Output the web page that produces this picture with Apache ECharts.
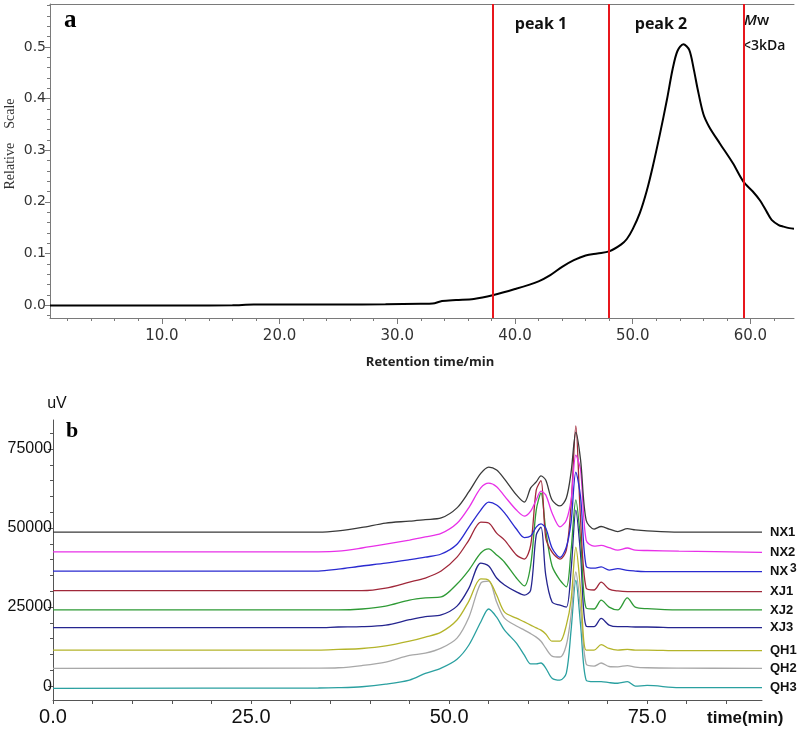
<!DOCTYPE html>
<html>
<head>
<meta charset="utf-8">
<script src="https://cdn.jsdelivr.net/npm/echarts@6/dist/echarts.min.js"></script>
<style>html,body{margin:0;padding:0;background:#fff;}#c{width:798px;height:732px;}</style>
</head>
<body>
<div id="c"></div>
<script>
// ---- Panel a data ----
const timeA = [0.5, 4, 8, 12, 16, 17.8, 20, 25, 29, 32, 33, 33.8, 35, 36.5, 38.1, 40, 42, 43, 44, 45, 46, 47, 48, 49, 49.5, 50, 50.6, 51.2, 51.7, 52.3, 52.9, 53.4, 53.8, 54.3, 54.8, 55.2, 55.5, 56, 56.5, 57.4, 58.5, 59.4, 60.2, 60.8, 61.4, 61.8, 62.4, 62.8, 63.3, 63.7];
const relA = [-0.001, -0.001, -0.001, -0.001, -0.0005, 0.001, 0.001, 0.001, 0.0015, 0.0025, 0.003, 0.008, 0.010, 0.012, 0.019, 0.031, 0.046, 0.058, 0.074, 0.087, 0.096, 0.100, 0.104, 0.117, 0.128, 0.147, 0.178, 0.222, 0.268, 0.33, 0.397, 0.458, 0.492, 0.505, 0.494, 0.455, 0.42, 0.37, 0.345, 0.313, 0.275, 0.239, 0.22, 0.203, 0.18, 0.165, 0.155, 0.152, 0.149, 0.148];
const peakLines = [38.1, 48.0, 59.4];
const topXLabels = [10, 20, 30, 40, 50, 60];
const topXMinor = [2,4,6,8,12,14,16,18,22,24,26,28,32,34,36,38,42,44,46,48,52,54,56,58,62];
const topYLabels = [0, 0.1, 0.2, 0.3, 0.4, 0.5];
const topYMinor = [-0.02,0.02,0.04,0.06,0.08,0.12,0.14,0.16,0.18,0.22,0.24,0.26,0.28,0.32,0.34,0.36,0.38,0.42,0.44,0.46,0.48,0.52,0.54,0.56,0.58];

// ---- Panel b data ----
const timeB = [0, 33.5, 36, 39, 42, 45, 47, 49, 51, 52.5, 54, 55, 56, 57, 58.5, 59.5, 60.3, 61, 61.6, 62.2, 63, 64, 64.8, 65.4, 66.0, 66.6, 67.3, 68.3, 69.2, 70.2, 71.3, 72.5, 73.5, 75, 79, 89.5];
const NX1 = [48700, 48700, 49100, 50200, 51600, 52200, 52700, 53200, 56400, 61500, 67300, 69300, 68400, 65500, 60500, 58200, 62700, 64600, 66500, 65200, 58900, 57000, 59500, 67700, 80300, 71500, 52500, 49700, 50500, 49700, 48900, 49800, 49400, 49100, 48700, 48700];
const NX2 = [42500, 42500, 42700, 43700, 44900, 46200, 47200, 48300, 51500, 56500, 62700, 64200, 63100, 60100, 55700, 53800, 55400, 58900, 61700, 60500, 54800, 50400, 52500, 58900, 73100, 68400, 46200, 44300, 44500, 43800, 43000, 43700, 43000, 42900, 42700, 42300];
const NX3 = [36400, 36400, 37000, 38000, 38900, 40000, 40800, 41800, 44900, 50300, 55700, 58200, 57300, 54800, 49700, 47000, 47500, 50300, 51300, 50000, 43700, 40700, 44000, 51900, 67700, 59800, 38000, 37300, 37700, 36700, 37200, 36600, 36400, 36200, 36200, 36200];
const XJ1 = [30200, 30200, 30200, 30200, 31000, 32900, 34200, 36400, 40800, 46200, 51900, 51600, 48400, 46200, 41500, 40200, 44600, 62000, 65000, 47000, 42400, 40200, 43000, 57300, 82300, 52500, 31000, 30400, 32900, 30700, 30100, 29900, 29900, 29900, 29900, 29900];
const XJ2 = [24100, 24100, 24100, 24400, 25300, 27200, 27900, 28200, 32300, 36700, 42100, 43400, 41500, 39200, 34200, 31700, 38300, 55700, 61100, 49400, 38000, 33500, 31400, 43000, 58900, 46200, 24700, 24400, 27200, 25000, 24100, 27900, 25000, 24500, 24100, 24100];
const XJ3 = [18500, 18500, 18700, 18800, 19300, 21000, 22000, 22500, 25300, 31000, 38900, 38000, 34200, 32000, 29800, 28800, 30400, 47800, 50300, 35100, 26600, 25600, 25000, 36700, 55700, 41500, 19000, 18800, 21400, 19300, 18800, 18800, 18700, 18700, 18500, 18500];
const QH1 = [11400, 11400, 11600, 11900, 12700, 14200, 15500, 17100, 20900, 26900, 33900, 33500, 28800, 23400, 21500, 20300, 19300, 18400, 17700, 16500, 14200, 14200, 19300, 27200, 44000, 30400, 11400, 11400, 13100, 11900, 11400, 11600, 11400, 11400, 11200, 11200];
const QH2 = [5600, 5700, 5800, 6500, 7600, 9700, 10400, 12000, 15200, 21800, 32600, 33200, 26600, 21500, 19000, 17700, 16600, 15500, 14200, 12000, 9500, 9200, 13000, 22500, 36100, 24100, 7000, 6300, 7300, 6200, 6100, 6500, 6000, 5800, 5700, 5600];
const QH3 = [-700, -600, -500, -200, 600, 1900, 4000, 5700, 8500, 13000, 20300, 24400, 21800, 17700, 13600, 9800, 7000, 7000, 7300, 5700, 2500, 1900, 4100, 17700, 33500, 19300, 1900, 1400, 1400, 1100, 900, 1400, 0, 200, -500, -500];
const seriesNames = ['NX1', 'NX2', 'NX3', 'XJ1', 'XJ2', 'XJ3', 'QH1', 'QH2', 'QH3'];
const seriesValues = [NX1, NX2, NX3, XJ1, XJ2, XJ3, QH1, QH2, QH3];
const seriesColors = ['#3a3a3a', '#e830e8', '#2a2ad0', '#a0283a', '#2e9a35', '#25258f', '#b4b42a', '#a8a8a8', '#2aa0a0'];
const botXLabels = [0, 25, 50, 75];
const botXTicks = [0,5,10,15,20,25,30,35,40,45,50,55,60,65,70,75,80,85];
const botYLabels = [0, 25000, 50000, 75000];
const botYMinor = [5000,10000,15000,20000,30000,35000,40000,45000,55000,60000,65000,70000,80000];

const chart = echarts.init(document.getElementById('c'), null, {renderer: 'canvas'});

const topAxisColor = '#7a7a7a';
const botAxisColor = '#555';
const lblFont = '"Liberation Sans", sans-serif';

const bottomSeries = seriesNames.map((name, k) => {
  const isNX3 = name === 'NX3';
  return {
    name: name,
    type: 'line',
    xAxisIndex: 3,
    yAxisIndex: 2,
    data: timeB.map((t, i) => [t, seriesValues[k][i]]),
    smooth: 0.3,
    showSymbol: false,
    lineStyle: {color: seriesColors[k], width: 1.3},
    endLabel: {
      show: true,
      distance: 8,
      formatter: isNX3 ? '{a|NX}{b|3}' : name,
      color: '#111',
      fontWeight: 'bold',
      fontSize: 13,
      fontFamily: lblFont,
      rich: {
        a: {fontWeight: 'bold', fontSize: 13, color: '#111', fontFamily: lblFont, padding: [0, 2, 0, 0]},
        b: {fontWeight: 'bold', fontSize: 12, color: '#111', padding: [0, 0, 7, 0], fontFamily: lblFont}
      }
    },
    z: 2 + (9 - k)
  };
});

const option = {
  animation: false,
  backgroundColor: '#fff',
  grid: [
    {left: 50, right: 4, top: 4, bottom: 414},
    {left: 53, right: 36, top: 420, bottom: 32}
  ],
  xAxis: [
    {
      gridIndex: 0, type: 'value', min: 0.5, max: 63.7, position: 'bottom',
      axisLine: {show: true, onZero: false, lineStyle: {color: topAxisColor, width: 1}},
      axisTick: {show: true, customValues: topXLabels, length: 6, lineStyle: {color: topAxisColor}},
      axisLabel: {customValues: topXLabels, formatter: v => Number(v).toFixed(1), margin: 11, fontSize: 15, fontFamily: 'DejaVu Sans', color: '#333'},
      splitLine: {show: false}
    },
    {
      gridIndex: 0, type: 'value', min: 0.5, max: 63.7, position: 'top',
      axisLine: {show: true, onZero: false, lineStyle: {color: topAxisColor, width: 1}},
      axisTick: {show: false}, axisLabel: {show: false}, splitLine: {show: false}
    },
    {
      gridIndex: 0, type: 'value', min: 0.5, max: 63.7, position: 'bottom',
      axisLine: {show: false, onZero: false},
      axisTick: {show: true, customValues: topXMinor, length: 3, lineStyle: {color: topAxisColor}},
      axisLabel: {show: false}, splitLine: {show: false}
    },
    {
      gridIndex: 1, type: 'value', min: 0, max: 89.5, position: 'bottom',
      axisLine: {show: true, onZero: false, lineStyle: {color: botAxisColor, width: 1}},
      axisTick: {show: true, customValues: botXTicks, length: 4, lineStyle: {color: botAxisColor}},
      axisLabel: {customValues: botXLabels, formatter: v => Number(v).toFixed(1), margin: 7, fontSize: 20, fontFamily: 'Liberation Sans', color: '#111'},
      splitLine: {show: false}
    }
  ],
  yAxis: [
    {
      gridIndex: 0, type: 'value', min: -0.025, max: 0.583, position: 'left',
      axisLine: {show: true, onZero: false, lineStyle: {color: topAxisColor, width: 1}},
      axisTick: {show: true, customValues: topYLabels, length: 5, lineStyle: {color: topAxisColor}},
      axisLabel: {customValues: topYLabels, formatter: v => Number(v).toFixed(1), margin: 4, fontSize: 14, fontFamily: 'DejaVu Sans', color: '#333'},
      splitLine: {show: false}
    },
    {
      gridIndex: 0, type: 'value', min: -0.025, max: 0.583, position: 'left',
      axisLine: {show: false, onZero: false},
      axisTick: {show: true, customValues: topYMinor, length: 3, lineStyle: {color: topAxisColor}},
      axisLabel: {show: false}, splitLine: {show: false}
    },
    {
      gridIndex: 1, type: 'value', min: -4400, max: 84200, position: 'left',
      axisLine: {show: true, onZero: false, lineStyle: {color: botAxisColor, width: 1}},
      axisTick: {show: true, customValues: botYLabels, length: 5, lineStyle: {color: botAxisColor}},
      axisLabel: {customValues: botYLabels, formatter: v => String(Math.round(v)), margin: 1, fontSize: 16, fontFamily: 'Liberation Sans', color: '#111'},
      splitLine: {show: false}
    },
    {
      gridIndex: 1, type: 'value', min: -4400, max: 84200, position: 'left',
      axisLine: {show: false, onZero: false},
      axisTick: {show: true, customValues: botYMinor, length: 3, lineStyle: {color: botAxisColor}},
      axisLabel: {show: false}, splitLine: {show: false}
    }
  ],
  series: [
    {
      name: 'a',
      type: 'line',
      xAxisIndex: 0,
      yAxisIndex: 0,
      data: timeA.map((t, i) => [t, relA[i]]),
      smooth: 0.3,
      showSymbol: false,
      lineStyle: {color: '#000', width: 2},
      markLine: {
        silent: true,
        symbol: ['none', 'none'],
        label: {show: false},
        lineStyle: {color: '#e8161c', width: 2, type: 'solid'},
        data: peakLines.map(v => ({xAxis: v}))
      }
    }
  ].concat(bottomSeries),
  graphic: [
    {type: 'text', left: 64, top: 8, style: {text: 'a', font: 'bold 25px "Liberation Serif", serif', fill: '#000'}},
    {type: 'text', x: 541, y: 24, style: {text: 'peak 1', font: 'bold 16px "Open Sans", sans-serif', fill: '#111', align: 'center', verticalAlign: 'middle'}},
    {type: 'text', x: 661, y: 24, style: {text: 'peak 2', font: 'bold 16px "Open Sans", sans-serif', fill: '#111', align: 'center', verticalAlign: 'middle'}},
    {type: 'text', x: 744, y: 21, style: {text: '{i|M}{n|w}', align: 'left', verticalAlign: 'middle', rich: {
      i: {font: 'italic 600 15px "Open Sans", sans-serif', fill: '#111'},
      n: {font: '600 15px "Open Sans", sans-serif', fill: '#111'}
    }}},
    {type: 'text', x: 743, y: 46, style: {text: '<3kDa', font: '600 14px "Open Sans", sans-serif', fill: '#111', align: 'left', verticalAlign: 'middle'}},
    {type: 'text', x: 10, y: 144, rotation: Math.PI / 2, style: {text: 'Relative    Scale', font: '14px "Liberation Serif", serif', fill: '#333', align: 'center', verticalAlign: 'middle'}},
    {type: 'text', x: 430, y: 362, style: {text: 'Retention time/min', font: 'bold 13px "Open Sans", sans-serif', fill: '#222', align: 'center', verticalAlign: 'middle'}},
    {type: 'text', x: 57, y: 404, style: {text: 'uV', font: '16px "Liberation Sans", sans-serif', fill: '#111', align: 'center', verticalAlign: 'middle'}},
    {type: 'text', x: 66, y: 431, style: {text: 'b', font: 'bold 22px "Liberation Serif", serif', fill: '#000', align: 'left', verticalAlign: 'middle'}},
    {type: 'text', x: 707, y: 718, style: {text: 'time(min)', font: 'bold 17px "Liberation Sans", sans-serif', fill: '#111', align: 'left', verticalAlign: 'middle'}}
  ]
};
chart.setOption(option);
</script>
</body>
</html>
